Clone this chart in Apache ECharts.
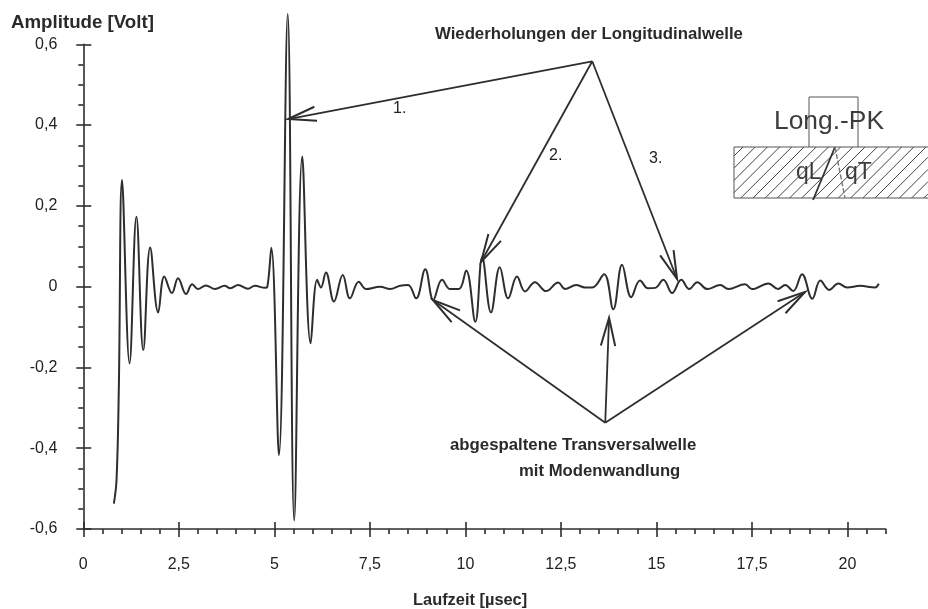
<!DOCTYPE html>
<html><head><meta charset="utf-8">
<style>html,body{margin:0;padding:0;background:#fff}#c{width:928px;height:609px}</style>
<script src="https://cdn.jsdelivr.net/npm/echarts@6/dist/echarts.min.js"></script>
</head><body><div id="c"></div>
<script>
var laufzeit = [0.80,0.87,0.93,1.013,1.21,1.39,1.57,1.75,1.96,2.12,2.32,2.48,2.69,2.85,3.0,3.21,3.45,3.7,3.85,4.05,4.31,4.49,4.76,4.81,4.92,5.12,5.35,5.52,5.73,5.95,6.12,6.22,6.35,6.56,6.79,6.98,7.21,7.4,7.77,8.03,8.29,8.5,8.71,8.95,9.16,9.39,9.6,9.83,10.02,10.26,10.44,10.67,10.9,11.12,11.35,11.56,11.82,12.11,12.43,12.61,12.9,13.13,13.32,13.63,13.87,14.1,14.34,14.57,14.78,14.97,15.18,15.41,15.65,15.86,16.07,16.33,16.67,16.88,17.32,17.5,17.93,18.18,18.37,18.58,18.81,19.08,19.29,19.52,19.76,19.99,20.33,20.72,20.82];
var amplitude = [-0.537,-0.478,-0.25,0.264,-0.19,0.173,-0.157,0.097,-0.064,0.025,-0.016,0.021,-0.018,0.006,-0.006,0.003,-0.006,0.002,-0.004,0.004,-0.005,0.002,-0.003,-0.002,0.096,-0.417,0.675,-0.579,0.322,-0.14,0.017,-0.002,0.035,-0.037,0.029,-0.029,0.012,-0.006,0,-0.006,0.002,0.004,-0.029,0.043,-0.033,0.017,-0.006,-0.006,0.04,-0.087,0.073,-0.064,0.048,-0.029,0.025,-0.012,0.011,-0.011,0.01,-0.006,0.004,-0.002,-0.002,0.031,-0.056,0.054,-0.026,0.015,-0.004,-0.003,0.017,-0.016,0.017,-0.006,0.011,-0.006,0.004,-0.006,0.006,-0.006,0.008,-0.006,0.004,-0.011,0.031,-0.03,0.015,-0.008,0.008,-0.002,0.002,-0.002,0.007];
var xMajor = [0,2.5,5,7.5,10,12.5,15,17.5,20];
var xMinor = [0.5,1,1.5,2,3,3.5,4,4.5,5.5,6,6.5,7,8,8.5,9,9.5,10.5,11,11.5,12,13,13.5,14,14.5,15.5,16,16.5,17,18,18.5,19,19.5,20.5,21];
var yMajor = [-0.6,-0.4,-0.2,0,0.2,0.4,0.6];
var yMinor = [-0.55,-0.5,-0.45,-0.35,-0.3,-0.25,-0.15,-0.1,-0.05,0.05,0.1,0.15,0.25,0.3,0.35,0.45,0.5,0.55];
// arrows: start time, start amp, tip time, tip amp
var arrows = [
 [13.32,0.558,5.36,0.415],
 [13.32,0.558,10.41,0.061],
 [13.32,0.558,15.54,0.019],
 [13.66,-0.337,9.15,-0.033],
 [13.66,-0.337,13.76,-0.077],
 [13.66,-0.337,18.89,-0.013]
];
var ink = '#2e2e2e';
var fmt = function(v){ return String(v).replace('.',','); };
function axisBase(extra){
  var a = {min:extra.min,max:extra.max,type:'value',splitLine:{show:false},
    axisLine:{show:extra.line===true,onZero:false,lineStyle:{color:ink,width:1.6}},
    axisLabel:{show:false},
    axisTick:{show:true,lineStyle:{color:ink,width:1.6},length:extra.len,inside:!!extra.inside,customValues:extra.vals}};
  if(extra.label){a.axisLabel=extra.label;}
  a.position=extra.position;
  return a;
}
var tickFont = {show:true,formatter:fmt,color:'#222',fontFamily:'Liberation Sans',fontSize:16};
var xLim={min:0,max:21,position:'bottom'}, yLim={min:-0.6,max:0.6,position:'left'};
var option = {
  animation:false,
  backgroundColor:'#fff',
  grid:{left:83.3,right:42.3,top:44.3,bottom:80},
  xAxis:[
    axisBase(Object.assign({line:true,len:8,vals:xMajor,label:Object.assign({},tickFont,{margin:28,customValues:xMajor})},xLim)),
    axisBase(Object.assign({len:7,inside:true,vals:xMajor},xLim)),
    axisBase(Object.assign({len:5,vals:xMinor},xLim))
  ],
  yAxis:[
    axisBase(Object.assign({line:true,len:7,vals:yMajor,label:Object.assign({},tickFont,{margin:26,customValues:yMajor})},yLim)),
    axisBase(Object.assign({len:8,inside:true,vals:yMajor},yLim)),
    axisBase(Object.assign({len:5,vals:yMinor},yLim))
  ],
  series:[
    {type:'line',xAxisIndex:0,yAxisIndex:0,smooth:0.4,symbol:'none',clip:false,silent:true,
     lineStyle:{color:ink,width:2},
     data:laufzeit.map(function(t,i){return [t,amplitude[i]];})},
    {type:'custom',xAxisIndex:0,yAxisIndex:0,clip:false,silent:true,
     data:arrows,
     encode:{x:[0,2],y:[1,3]},
     renderItem:function(p,api){
       var s=api.coord([api.value(0),api.value(1)]), e=api.coord([api.value(2),api.value(3)]);
       var ang=Math.atan2(s[1]-e[1],s[0]-e[0]), L=29, d=0.25;
       var b1=[e[0]+L*Math.cos(ang+d),e[1]+L*Math.sin(ang+d)], b2=[e[0]+L*Math.cos(ang-d),e[1]+L*Math.sin(ang-d)];
       return {type:'group',children:[
         {type:'line',shape:{x1:s[0],y1:s[1],x2:e[0],y2:e[1]},style:{stroke:ink,lineWidth:1.8,fill:null}},
         {type:'polyline',shape:{points:[b1,e,b2]},style:{stroke:ink,lineWidth:2,fill:null}}
       ]};
     }}
  ],
  graphic:{elements:buildGraphics()}
};
function txt(x,y,t,size,weight,align,color){
  return {type:'text',x:x,y:y,silent:true,style:{text:t,fontFamily:'Liberation Sans',fontSize:size,fontWeight:weight||'normal',fill:color||'#222',align:align||'left',verticalAlign:'middle'}};
}
function buildGraphics(){
  var g=[];
  g.push(txt(11,23,'Amplitude [Volt]',18.7,'bold','left','#2a2a2a'));
  g.push(txt(413,600,'Laufzeit [\u00b5sec]',16.4,'bold','left','#2a2a2a'));
  g.push(txt(435,34,'Wiederholungen der Longitudinalwelle',16.75,'bold','left','#2a2a2a'));
  g.push(txt(393,109,'1.',16));
  g.push(txt(549,156,'2.',16));
  g.push(txt(649,159,'3.',16));
  g.push(txt(450,445,'abgespaltene Transversalwelle',16.8,'bold','left','#2a2a2a'));
  g.push(txt(519,471,'mit Modenwandlung',16.7,'bold','left','#2a2a2a'));
  // inset sketch
  var x0=734,x1=928,y0=147,y1=198,st={stroke:'#444',lineWidth:1};
  for(var c=x0+9;c<x1+(y1-y0);c+=12.2){
    var ax=c,ay=y0,bx=c-(y1-y0),by=y1;
    if(ax>x1){ay=y0+(ax-x1);ax=x1;}
    if(bx<x0){by=y1-(x0-bx);bx=x0;}
    g.push({type:'line',silent:true,shape:{x1:ax,y1:ay,x2:bx,y2:by},style:st});
  }
  g.push({type:'rect',silent:true,shape:{x:x0,y:y0,width:x1-x0+2,height:y1-y0},style:{fill:null,stroke:'#555',lineWidth:1}});
  g.push({type:'polyline',silent:true,shape:{points:[[809,147],[809,97],[858,97],[858,147]]},style:{fill:null,stroke:'#555',lineWidth:1}});
  g.push(txt(774,122,'Long.-PK',26.4,'normal','left','#3c3c3c'));
  g.push(txt(796,173,'qL',23,'normal','left','#3c3c3c'));
  g.push(txt(845,173,'qT',23,'normal','left','#3c3c3c'));
  g.push({type:'line',silent:true,shape:{x1:835,y1:147,x2:813,y2:200},style:{stroke:'#333',lineWidth:1.8}});
  g.push({type:'line',silent:true,shape:{x1:835,y1:147,x2:845,y2:198},style:{stroke:'#777',lineWidth:1.4,lineDash:[5,2]}});
  return g;
}
echarts.init(document.getElementById('c'),null,{renderer:'canvas'}).setOption(option);
</script></body></html>
